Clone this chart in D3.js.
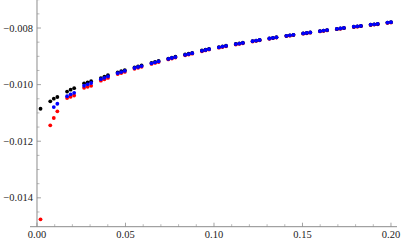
<!DOCTYPE html>
<html><head><meta charset="utf-8">
<script src="https://cdn.jsdelivr.net/npm/d3@7"></script>
<style>html,body{margin:0;padding:0;background:#fff;}svg{display:block;}
text{font-family:"Liberation Serif","Times New Roman",serif;}</style>
</head><body>
<svg id="c" width="402" height="243"></svg>
<script>
const xBlackRed = [0.002, 0.0075, 0.0095, 0.0115, 0.017, 0.019, 0.021, 0.0266, 0.0286, 0.0306,
  0.0361, 0.0381, 0.0401, 0.0456, 0.0476, 0.0496, 0.0551, 0.0571, 0.0591, 0.0647, 0.0667, 0.0687,
  0.0742, 0.0762, 0.0782, 0.0837, 0.0857, 0.0877, 0.0932, 0.0952, 0.0972, 0.1028, 0.1048, 0.1068,
  0.1123, 0.1143, 0.1163, 0.1218, 0.1238, 0.1258, 0.1313, 0.1333, 0.1353, 0.1409, 0.1429, 0.1449,
  0.1504, 0.1524, 0.1544, 0.1599, 0.1619, 0.1639, 0.1694, 0.1714, 0.1734, 0.179, 0.181, 0.183,
  0.1885, 0.1905, 0.1925, 0.198, 0.2];
const xBlue = [0.0095, 0.0115, 0.017, 0.019, 0.021, 0.0266, 0.0286, 0.0306,
  0.0361, 0.0381, 0.0401, 0.0456, 0.0476, 0.0496, 0.0551, 0.0571, 0.0591, 0.0647, 0.0667, 0.0687,
  0.0742, 0.0762, 0.0782, 0.0837, 0.0857, 0.0877, 0.0932, 0.0952, 0.0972, 0.1028, 0.1048, 0.1068,
  0.1123, 0.1143, 0.1163, 0.1218, 0.1238, 0.1258, 0.1313, 0.1333, 0.1353, 0.1409, 0.1429, 0.1449,
  0.1504, 0.1524, 0.1544, 0.1599, 0.1619, 0.1639, 0.1694, 0.1714, 0.1734, 0.179, 0.181, 0.183,
  0.1885, 0.1905, 0.1925, 0.198, 0.2];
const yBlack = [-0.010852, -0.010590, -0.010498, -0.010438, -0.010244, -0.010177, -0.010124,
  -0.009954, -0.009919, -0.009880, -0.009767, -0.009717, -0.009668, -0.009565, -0.009527, -0.009488,
  -0.009392, -0.009357, -0.009322, -0.009230, -0.009194, -0.009163, -0.009078, -0.009046, -0.009014,
  -0.008936, -0.008908, -0.008880, -0.008795, -0.008767, -0.008739, -0.008675, -0.008650, -0.008625,
  -0.008562, -0.008541, -0.008519, -0.008463, -0.008442, -0.008420, -0.008369, -0.008348, -0.008327,
  -0.008275, -0.008257, -0.008239, -0.008190, -0.008172, -0.008154, -0.008109, -0.008091, -0.008073,
  -0.008031, -0.008013, -0.007995, -0.007953, -0.007939, -0.007925, -0.007882, -0.007868, -0.007854,
  -0.007808, -0.007794];
const yRed = [-0.014760, -0.011438, -0.011180, -0.010944, -0.010474, -0.010428, -0.010385,
  -0.010113, -0.010078, -0.010042, -0.009862, -0.009813, -0.009763, -0.009629, -0.009590, -0.009551,
  -0.009442, -0.009406, -0.009371, -0.009269, -0.009233, -0.009201, -0.009110, -0.009078, -0.009046,
  -0.008965, -0.008936, -0.008908, -0.008820, -0.008792, -0.008763, -0.008696, -0.008671, -0.008647,
  -0.008583, -0.008562, -0.008541, -0.008477, -0.008456, -0.008435, -0.008382, -0.008360, -0.008339,
  -0.008286, -0.008269, -0.008251, -0.008201, -0.008184, -0.008166, -0.008120, -0.008102, -0.008085,
  -0.008042, -0.008025, -0.008007, -0.007965, -0.007951, -0.007936, -0.007894, -0.007880, -0.007866,
  -0.007820, -0.007806];
const yBlue = [-0.010792, -0.010675, -0.010410, -0.010343, -0.010290, -0.010039, -0.009989, -0.009943,
  -0.009809, -0.009760, -0.009710, -0.009594, -0.009555, -0.009516, -0.009413, -0.009378, -0.009343,
  -0.009247, -0.009212, -0.009180, -0.009092, -0.009060, -0.009028, -0.008947, -0.008919, -0.008890,
  -0.008806, -0.008777, -0.008749, -0.008682, -0.008657, -0.008633, -0.008569, -0.008548, -0.008527,
  -0.008466, -0.008445, -0.008424, -0.008371, -0.008350, -0.008329, -0.008276, -0.008258, -0.008240,
  -0.008191, -0.008173, -0.008155, -0.008110, -0.008092, -0.008074, -0.008032, -0.008014, -0.007996,
  -0.007954, -0.007940, -0.007926, -0.007883, -0.007869, -0.007855, -0.007809, -0.007795];

const xMajorTicks = [0, 0.05, 0.10, 0.15, 0.20];
const xTickLabels = ["0.00", "0.05", "0.10", "0.15", "0.20"];
const xMinorTicks = [0.01,0.02,0.03,0.04,0.06,0.07,0.08,0.09,0.11,0.12,0.13,0.14,0.16,0.17,0.18,0.19];
const yMajorTicks = [-0.014, -0.012, -0.010, -0.008];
const yTickLabels = ["\u22120.014", "\u22120.012", "\u22120.010", "\u22120.008"];
const yMinorTicks = [-0.0145,-0.0135,-0.013,-0.0125,-0.0115,-0.011,-0.0105,-0.0095,-0.009,-0.0085,-0.0075,-0.007];

const svg = d3.select("#c");
const x = d3.scaleLinear().domain([-0.00395, 0.2034]).range([30, 397]);
const y = d3.scaleLinear().domain([-0.01502, -0.00701]).range([226.7, 0]);

const axisColor = "#8c8c8c";
const x0 = x(0), yAx = y(-0.01502);

const g = svg.append("g");
g.append("line").attr("x1", x.range()[0]).attr("x2", x.range()[1]).attr("y1", yAx).attr("y2", yAx)
  .attr("stroke", axisColor).attr("stroke-width", 1);
g.append("line").attr("x1", x0).attr("x2", x0).attr("y1", y.range()[1]).attr("y2", y.range()[0])
  .attr("stroke", axisColor).attr("stroke-width", 1);

g.selectAll(".xmaj").data(xMajorTicks).enter().append("line")
  .attr("x1", d => x(d)).attr("x2", d => x(d)).attr("y1", yAx).attr("y2", yAx - 4)
  .attr("stroke", axisColor).attr("stroke-width", 0.8);
g.selectAll(".xmin").data(xMinorTicks).enter().append("line")
  .attr("x1", d => x(d)).attr("x2", d => x(d)).attr("y1", yAx).attr("y2", yAx - 2.5)
  .attr("stroke", axisColor).attr("stroke-width", 0.6);
g.selectAll(".xlab").data(xMajorTicks).enter().append("text")
  .attr("x", d => x(d)).attr("y", yAx + 11.5).attr("text-anchor", "middle")
  .attr("font-size", 10.5).attr("fill", "#222").text((d, i) => xTickLabels[i]);

g.selectAll(".ymaj").data(yMajorTicks).enter().append("line")
  .attr("x1", x0).attr("x2", x0 + 4).attr("y1", d => y(d)).attr("y2", d => y(d))
  .attr("stroke", axisColor).attr("stroke-width", 0.8);
g.selectAll(".ymin").data(yMinorTicks).enter().append("line")
  .attr("x1", x0).attr("x2", x0 + 2.5).attr("y1", d => y(d)).attr("y2", d => y(d))
  .attr("stroke", axisColor).attr("stroke-width", 0.6);
g.selectAll(".ylab").data(yMajorTicks).enter().append("text")
  .attr("x", x0 - 4).attr("y", d => y(d) + 3.5).attr("text-anchor", "end")
  .attr("font-size", 10.5).attr("fill", "#222").text((d, i) => yTickLabels[i]);

function dots(xs, ys, color) {
  svg.append("g").selectAll("circle").data(xs.map((d, i) => [d, ys[i]])).enter().append("circle")
    .attr("cx", d => x(d[0])).attr("cy", d => y(d[1])).attr("r", 1.9).attr("fill", color);
}
dots(xBlackRed, yRed, "#ff0000");
dots(xBlackRed, yBlack, "#000000");
dots(xBlue, yBlue, "#0000ff");
</script>
</body></html>
